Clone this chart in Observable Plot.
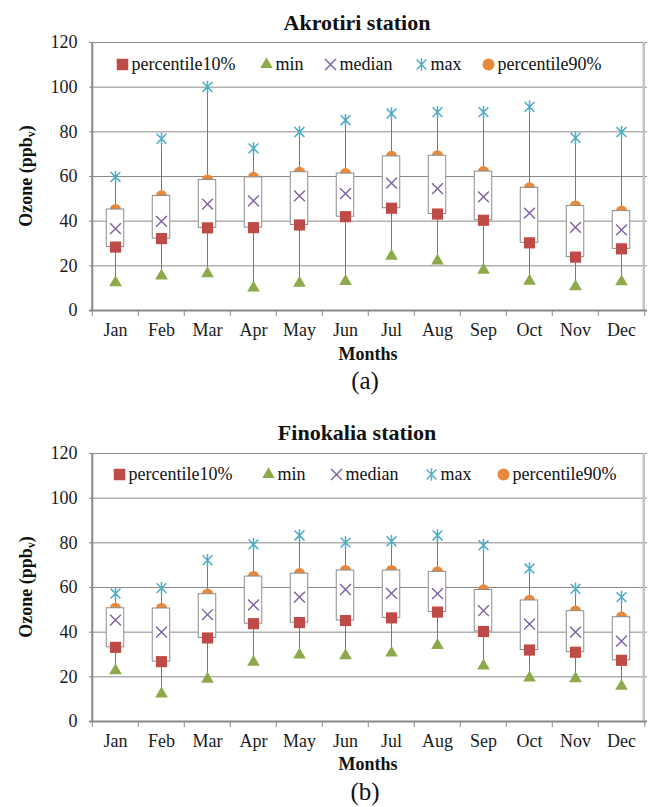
<!DOCTYPE html>
<html><head><meta charset="utf-8">
<script src="https://cdn.jsdelivr.net/npm/d3@7"></script>
<script src="https://cdn.jsdelivr.net/npm/@observablehq/plot@0.6"></script>
<style>
body{margin:0;background:#fff;}
#page{position:relative;width:651px;height:807px;font-family:"Liberation Serif","Times New Roman",serif;color:#111;overflow:hidden;}
.abs{position:absolute;white-space:nowrap;line-height:1;font-family:"Liberation Serif","Times New Roman",serif;}
.leg{position:absolute;display:flex;align-items:center;height:22px;font-size:18px;white-space:nowrap;font-family:"Liberation Serif","Times New Roman",serif;color:#111;}
.leg svg{margin-right:2px;}
</style></head><body><div id="page"></div>
<script>
// ---------- data ----------
const months = ["Jan","Feb","Mar","Apr","May","Jun","Jul","Aug","Sep","Oct","Nov","Dec"];
const yTicks = [0,20,40,60,80,100,120];
const seriesNames = ["percentile10%","min","median","max","percentile90%"];
const chartTitles = ["Akrotiri station","Finokalia station"];
const panelLabels = ["(a)","(b)"];
const xTitle = "Months";

const akrotiriMin    = [12.5, 15.5, 16.5, 10.1, 12.3, 13.1, 24.4, 22.2, 18.1, 13.2, 10.7, 12.9];
const akrotiriP10    = [28.4, 32.2, 37.0, 37.1, 38.3, 42.0, 45.8, 43.2, 40.4, 30.3, 23.9, 27.6];
const akrotiriMedian = [36.7, 39.9, 47.6, 49.1, 51.3, 52.3, 57.0, 54.6, 50.9, 43.6, 37.2, 36.1];
const akrotiriP90    = [45.2, 51.3, 58.4, 59.6, 61.9, 61.3, 69.0, 69.3, 62.2, 54.9, 46.8, 44.5];
const akrotiriMax    = [59.8, 76.9, 100.1, 72.6, 79.9, 85.2, 88.2, 88.8, 88.8, 91.2, 77.3, 79.9];

const finokaliaMin    = [22.8, 12.4, 19.0, 26.6, 29.8, 29.5, 30.7, 34.1, 24.9, 19.6, 19.2, 15.8];
const finokaliaP10    = [33.2, 26.8, 37.4, 43.8, 44.3, 45.2, 46.4, 49.0, 40.3, 32.0, 31.0, 27.4];
const finokaliaMedian = [45.4, 40.0, 47.9, 52.2, 55.7, 59.1, 57.4, 57.3, 49.6, 43.6, 40.0, 36.0];
const finokaliaP90    = [50.7, 50.6, 57.0, 64.9, 66.2, 67.6, 67.6, 67.0, 58.9, 54.2, 49.4, 46.7];
const finokaliaMax    = [57.3, 59.7, 72.2, 79.3, 83.3, 80.1, 80.7, 83.3, 78.9, 68.5, 59.4, 55.7];

// ---------- styles ----------
const colors = {p10:"#BE4B48", min:"#8DAA4B", median:"#7E5F9F", max:"#4AACC5", p90:"#E8883A"};
const W = 651, ML = 89, MR = 4, H = 306, MT = 8, MB = 30;
const bw = (W - ML - MR) / months.length;
const boxW = 18;

const timesSymbol = {draw(ctx, size){ const d = Math.sqrt(size/Math.PI); ctx.moveTo(-d,-d); ctx.lineTo(d,d); ctx.moveTo(-d,d); ctx.lineTo(d,-d); }};
const starSymbol = {draw(ctx, size){ const r = Math.sqrt(size/Math.PI); const d = r*0.78; ctx.moveTo(0,-r); ctx.lineTo(0,r); ctx.moveTo(-d,-d); ctx.lineTo(d,d); ctx.moveTo(-d,d); ctx.lineTo(d,-d); }};

const panels = [
  {title: chartTitles[0], label: panelLabels[0], dy: 0, legendX:[116,260,324,415,482],
   min: akrotiriMin, p10: akrotiriP10, median: akrotiriMedian, p90: akrotiriP90, max: akrotiriMax},
  {title: chartTitles[1], label: panelLabels[1], dy: 410.5, legendX:[113,262,330,425,497],
   min: finokaliaMin, p10: finokaliaP10, median: finokaliaMedian, p90: finokaliaP90, max: finokaliaMax}
];

const page = document.getElementById("page");
function addDiv(html, css, cls="abs"){ const d = document.createElement("div"); d.className = cls; d.innerHTML = html; Object.assign(d.style, css); page.appendChild(d); return d; }

function legendIcon(kind){
  const s = 15, c = s/2;
  let path, fill = "none", stroke = "none", sw = 0;
  if (kind === 0) { path = d3.symbol(d3.symbolSquare, 132)(); fill = colors.p10; }
  else if (kind === 1) { path = d3.symbol(d3.symbolTriangle, 66)(); fill = colors.min; }
  else if (kind === 2) { const p = d3.path(); timesSymbol.draw(p, Math.PI*5.4*5.4); path = p.toString(); stroke = colors.median; sw = 1.4; }
  else if (kind === 3) { const p = d3.path(); starSymbol.draw(p, Math.PI*6.3*6.3); path = p.toString(); stroke = colors.max; sw = 1.4; }
  else { path = d3.symbol(d3.symbolCircle, Math.PI*36)(); fill = colors.p90; }
  return `<svg width="${s}" height="${s}" viewBox="0 0 ${s} ${s}"><path transform="translate(${c},${c})" d="${path}" fill="${fill}" stroke="${stroke}" stroke-width="${sw}"/></svg>`;
}

for (const P of panels) {
  const table = months.map((m, i) => ({month: m, min: P.min[i], p10: P.p10[i], median: P.median[i], p90: P.p90[i], max: P.max[i]}));
  const top = 34 + P.dy;
  const chart = Plot.plot({
    width: W, height: H, marginTop: MT, marginBottom: MB, marginLeft: ML, marginRight: MR,
    style: {fontFamily: "Liberation Serif, Times New Roman, serif", fontSize: "18px", color: "#1a1a1a", background: "transparent", overflow: "visible"},
    x: {type: "band", domain: months, padding: 0, label: null, tickSize: 0, tickPadding: 13},
    y: {domain: [0, 120], ticks: yTicks, label: null, tickSize: 0, tickPadding: 12, tickFormat: d => String(d)},
    marks: [
      Plot.ruleY(yTicks.filter(t => t > 0), {stroke: "#8a8a8a", strokeWidth: 1}),
      Plot.ruleX([months[months.length-1]], {dx: bw/2 - 1, stroke: "#c4c4c4", strokeWidth: 2.5}),
      Plot.ruleY(yTicks, {x1: months[0], x2: months[0], insetLeft: -6, insetRight: bw, stroke: "#888"}),
      Plot.ruleX([months[0]], {dx: -bw/2, stroke: "#888", strokeWidth: 2}),
      Plot.ruleY([0], {stroke: "#888", strokeWidth: 2}),
      Plot.ruleX(months, {x: d => d, y1: 0, y2: 0, dx: -bw/2, insetBottom: -6, stroke: "#888"}),
      Plot.ruleX([months[months.length-1]], {y1: 0, y2: 0, dx: bw/2, insetBottom: -6, stroke: "#888"}),
      Plot.ruleX(table, {x: "month", y1: "min", y2: "max", stroke: "#777", strokeWidth: 1}),
      Plot.dot(table, {x: "month", y: "p90", symbol: "circle", r: 5.6, fill: colors.p90}),
      Plot.barY(table, {x: "month", y1: "p10", y2: "p90", fill: "white", stroke: "#8c8c8c", strokeWidth: 1, insetLeft: (bw - boxW)/2, insetRight: (bw - boxW)/2}),
      Plot.dot(table, {x: "month", y: "p10", symbol: "square", r: 6.3, fill: colors.p10}),
      Plot.dot(table, {x: "month", y: "min", symbol: "triangle", r: 4.7, fill: colors.min}),
      Plot.dot(table, {x: "month", y: "median", symbol: timesSymbol, r: 5.4, fill: "none", stroke: colors.median, strokeWidth: 1.4}),
      Plot.dot(table, {x: "month", y: "max", symbol: starSymbol, r: 6.3, fill: "none", stroke: colors.max, strokeWidth: 1.5})
    ]
  });
  chart.style.position = "absolute";
  chart.style.left = "0px";
  chart.style.top = top + "px";
  page.appendChild(chart);

  addDiv(P.title, {left: "207px", width: "300px", textAlign: "center", top: (11.6 + P.dy) + "px", fontSize: "22px", fontWeight: "bold"});
  seriesNames.forEach((name, k) => {
    addDiv(legendIcon(k) + `<span>${name}</span>`, {left: (P.legendX[k] - 1.5) + "px", top: (53 + P.dy) + "px"}, "leg");
  });
  addDiv(`Ozone (ppb<sub style="font-size:12px;vertical-align:-3px">v</sub>)`, {left: "27px", top: (176 + P.dy) + "px", transform: "translate(-50%,-50%) rotate(-90deg)", fontSize: "18px", fontWeight: "bold"});
  addDiv(xTitle, {left: "268px", width: "200px", textAlign: "center", top: (344.5 + P.dy) + "px", fontSize: "18px", fontWeight: "bold"});
  addDiv(P.label, {left: "265px", width: "200px", textAlign: "center", top: (368 + P.dy) + "px", fontSize: "25px"});
}
</script>
</body></html>
